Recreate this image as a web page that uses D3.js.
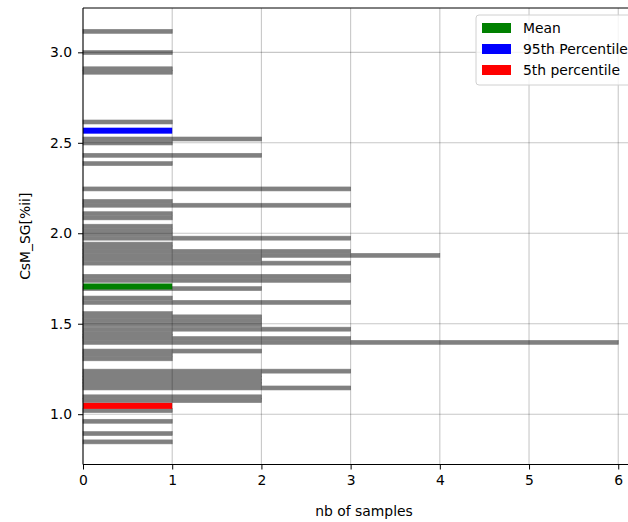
<!DOCTYPE html>
<html>
<head>
<meta charset="utf-8">
<script src="https://cdn.jsdelivr.net/npm/d3@7"></script>
<style>
  body { margin: 0; background: #fff; }
  text { font-family: "DejaVu Sans", sans-serif; }
</style>
</head>
<body>
<svg id="chart"></svg>
<script>
// bar centres (CsM_SG value) and how many samples fall there
var binValues = [3.116, 2.999, 2.909, 2.890, 2.615, 2.521, 2.499, 2.431, 2.385,
  2.245, 2.176, 2.155, 2.108, 2.085, 2.039, 2.017, 1.995, 1.973, 1.940, 1.920,
  1.900, 1.878, 1.858, 1.835, 1.762, 1.740, 1.694, 1.642, 1.618, 1.556, 1.538,
  1.516, 1.494, 1.470, 1.448, 1.430, 1.418, 1.397, 1.349, 1.328, 1.306, 1.238,
  1.218, 1.200, 1.182, 1.164, 1.145, 1.096, 1.075, 1.020, 0.961, 0.893, 0.847];
var binCounts = [1, 1, 1, 1, 1, 2, 1, 2, 1,
  3, 1, 3, 1, 1, 1, 1, 1, 3, 1, 1,
  3, 4, 2, 3, 3, 3, 2, 1, 3, 1, 2,
  2, 2, 3, 1, 1, 3, 6, 2, 1, 1, 3,
  2, 2, 2, 2, 3, 2, 2, 1, 1, 1, 1];

var statLabels = ["Mean", "95th Percentile", "5th percentile"];
var statValues = [1.706, 2.567, 1.046];
var statColors = ["green", "blue", "red"];

var xTicks = [0, 1, 2, 3, 4, 5, 6];
var yTicks = [1.0, 1.5, 2.0, 2.5, 3.0];

var svgWidth = 628;
var svgHeight = 522;
var plotLeft = 83, plotRight = 645, plotTop = 8, plotBottom = 464.5;
var binHeight = 0.022;
var statHeight = 0.033;

var svg = d3.select("#chart").attr("width", svgWidth).attr("height", svgHeight);

var x = d3.scaleLinear().domain([0, 6.3]).range([plotLeft, plotRight]);
var y = d3.scaleLinear().domain([0.722, 3.245]).range([plotBottom, plotTop]);

var bins = binValues.map(function (v, i) { return { value: v, count: binCounts[i] }; });

// a thin stroke in the fill colour hides the anti-aliasing seams between touching bars
svg.append("g")
  .attr("id", "bars")
  .selectAll("rect")
  .data(bins)
  .enter()
  .append("rect")
  .attr("x", x(0))
  .attr("y", function (d) { return y(d.value + binHeight / 2); })
  .attr("width", function (d) { return x(d.count) - x(0); })
  .attr("height", function (d) { return y(d.value - binHeight / 2) - y(d.value + binHeight / 2); })
  .attr("fill", "#808080")
  .attr("stroke", "#808080")
  .attr("stroke-width", 0.6);

svg.append("g")
  .attr("id", "stats")
  .selectAll("rect")
  .data(statValues)
  .enter()
  .append("rect")
  .attr("x", x(0))
  .attr("y", function (d) { return y(d + statHeight / 2); })
  .attr("width", x(1) - x(0))
  .attr("height", y(0) - y(statHeight))
  .attr("fill", function (d, i) { return statColors[i]; });

// grid
var grid = svg.append("g").attr("id", "grid");
grid.selectAll("line.gx")
  .data(xTicks)
  .enter()
  .append("line")
  .attr("x1", function (d) { return x(d); })
  .attr("x2", function (d) { return x(d); })
  .attr("y1", plotTop)
  .attr("y2", plotBottom)
  .attr("stroke", "#000")
  .attr("stroke-opacity", 0.22)
  .attr("stroke-width", 1.1);
grid.selectAll("line.gy")
  .data(yTicks)
  .enter()
  .append("line")
  .attr("x1", plotLeft)
  .attr("x2", plotRight)
  .attr("y1", function (d) { return y(d); })
  .attr("y2", function (d) { return y(d); })
  .attr("stroke", "#000")
  .attr("stroke-opacity", 0.22)
  .attr("stroke-width", 1.1);

// axes
var xAxis = d3.axisBottom(x).tickValues(xTicks).tickFormat(d3.format("d")).tickSize(5).tickPadding(6);
var yAxis = d3.axisLeft(y).tickValues(yTicks).tickFormat(d3.format(".1f")).tickSize(5).tickPadding(6);

var xAxisNode = svg.append("g")
  .attr("transform", `translate(0,${plotBottom})`)
  .call(xAxis);
var yAxisNode = svg.append("g")
  .attr("transform", `translate(${plotLeft},0)`)
  .call(yAxis);

[xAxisNode, yAxisNode].forEach(function (g) {
  g.select(".domain").remove();
  g.selectAll(".tick line").attr("stroke", "#000").attr("stroke-width", 1);
  g.selectAll(".tick text")
    .attr("fill", "#000")
    .style("font-size", "13.9px")
    .style("font-family", "DejaVu Sans, sans-serif");
});

// spines
svg.append("line").attr("x1", plotLeft).attr("x2", plotLeft).attr("y1", plotTop).attr("y2", plotBottom).attr("stroke", "#000");
svg.append("line").attr("x1", plotLeft).attr("x2", plotRight).attr("y1", plotBottom).attr("y2", plotBottom).attr("stroke", "#000");
svg.append("line").attr("x1", plotLeft).attr("x2", plotRight).attr("y1", plotTop).attr("y2", plotTop).attr("stroke", "#000");
svg.append("line").attr("x1", plotRight).attr("x2", plotRight).attr("y1", plotTop).attr("y2", plotBottom).attr("stroke", "#000");

svg.append("text")
  .attr("x", (plotLeft + plotRight) / 2)
  .attr("y", 516)
  .attr("text-anchor", "middle")
  .style("font-size", "13.9px")
  .text("nb of samples");

svg.append("text")
  .attr("transform", `translate(30,${(plotTop + plotBottom) / 2}) rotate(-90)`)
  .attr("text-anchor", "middle")
  .style("font-size", "13.9px")
  .text("CsM_SG[%ii]");

// legend
var legend = svg.append("g").attr("id", "legend").attr("transform", "translate(476,15)");
legend.append("rect")
  .attr("width", 175)
  .attr("height", 70)
  .attr("rx", 3)
  .attr("fill", "#fff")
  .attr("fill-opacity", 0.8)
  .attr("stroke", "#d0d0d0");
var items = legend.selectAll("g.item")
  .data(statLabels)
  .enter()
  .append("g")
  .attr("transform", function (d, i) { return `translate(0,${8 + i * 21})`; });
items.append("rect")
  .attr("x", 6)
  .attr("width", 29)
  .attr("height", 10)
  .attr("fill", function (d, i) { return statColors[i]; });
items.append("text")
  .attr("x", 47)
  .attr("y", 10)
  .style("font-size", "13.9px")
  .text(function (d) { return d; });
</script>
</body>
</html>
